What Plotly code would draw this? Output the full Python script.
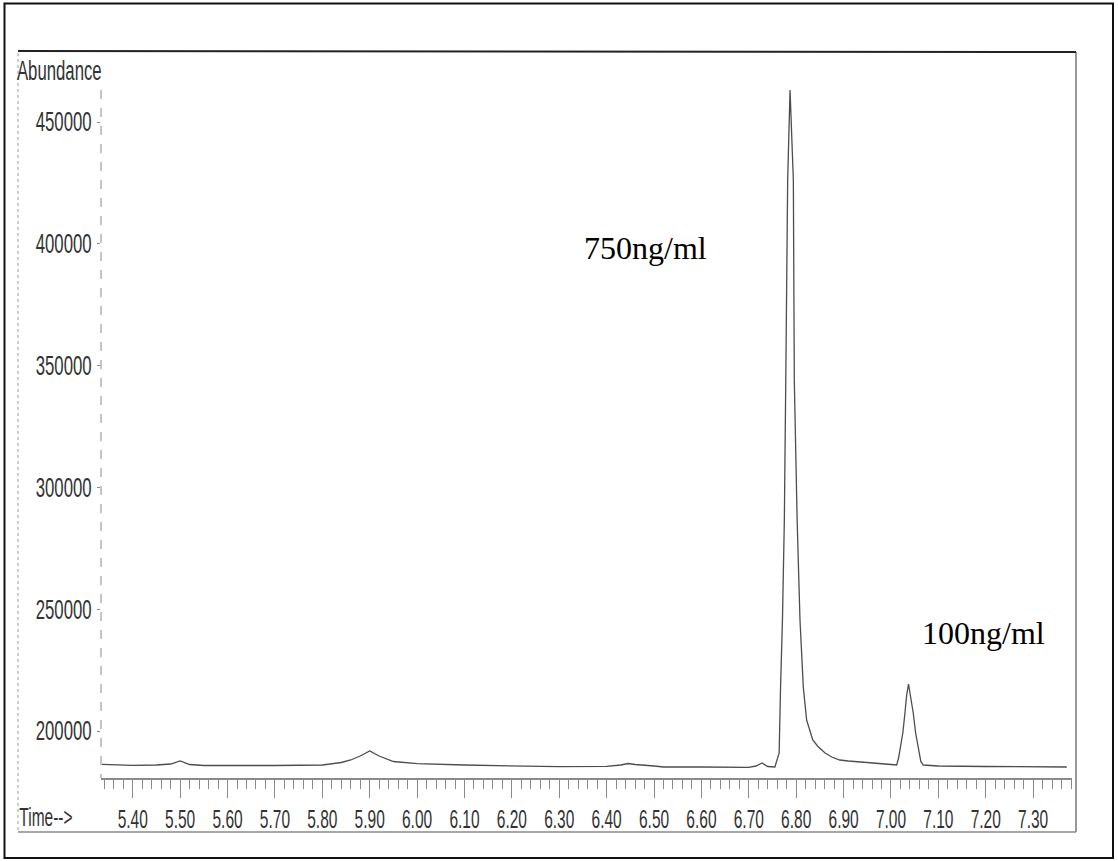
import plotly.graph_objects as go

# Total ion chromatogram: retention time (min) vs abundance
time_min = [5.335, 5.40, 5.45, 5.48, 5.50, 5.52, 5.55, 5.60, 5.70, 5.80,
            5.82, 5.84, 5.86, 5.88, 5.90, 5.92, 5.95, 5.98, 6.00, 6.10,
            6.20, 6.30, 6.40, 6.43, 6.445, 6.46, 6.50, 6.52, 6.60, 6.70,
            6.715, 6.728, 6.74, 6.75, 6.755, 6.764, 6.7645, 6.766, 6.767, 6.771,
            6.775, 6.778, 6.782, 6.787, 6.794, 6.796, 6.802, 6.808, 6.815, 6.822,
            6.835, 6.845, 6.861, 6.875, 6.892, 6.91, 6.93, 6.962, 7.00, 7.012,
            7.016, 7.0205, 7.025, 7.0295, 7.033, 7.037, 7.041, 7.047, 7.052, 7.058,
            7.063, 7.068, 7.10, 7.20, 7.30, 7.371]
abundance = [186330, 185920, 186040, 186450, 187690, 186250, 185840, 185760, 185840, 186040,
             186450, 187070, 188100, 189740, 191790, 189740, 187480, 186860, 186580, 186040,
             185630, 185340, 185510, 186040, 186660, 186250, 185630, 185220, 185220, 185100,
             185630, 186860, 185430, 185220, 185220, 190970, 196300, 204500, 218060, 245570,
             286620, 344090, 426190, 463130, 426190, 344090, 286620, 245570, 218060, 204500,
             196300, 193840, 190970, 189330, 188100, 187690, 187270, 186860, 186250, 186040,
             188900, 193430, 199180, 207390, 214500, 219290, 214500, 207390, 199180, 193430,
             187500, 186040, 185630, 185430, 185220, 185220]

x_ticks = [5.40, 5.50, 5.60, 5.70, 5.80, 5.90, 6.00, 6.10, 6.20, 6.30,
           6.40, 6.50, 6.60, 6.70, 6.80, 6.90, 7.00, 7.10, 7.20, 7.30]
x_tick_text = ["5.40", "5.50", "5.60", "5.70", "5.80", "5.90", "6.00", "6.10", "6.20", "6.30",
               "6.40", "6.50", "6.60", "6.70", "6.80", "6.90", "7.00", "7.10", "7.20", "7.30"]
y_ticks = [200000, 250000, 300000, 350000, 400000, 450000]
y_tick_text = ["200000", "250000", "300000", "350000", "400000", "450000"]

peak_labels = ["750ng/ml", "100ng/ml"]

W, H = 1118, 861
L, R, T, B = 101, 1072, 51, 778  # plot-area edges in pixels

SANS = "Liberation Sans, Arial, sans-serif"
SERIF = "Liberation Serif, Times New Roman, serif"


def px(x):
    return (x - L) / (R - L)


def py(y):
    return (B - y) / (B - T)


fig = go.Figure()
fig.add_trace(go.Scatter(
    x=time_min, y=abundance, mode="lines",
    line=dict(color="#4d4d4d", width=1.3), hoverinfo="skip", showlegend=False,
))

shapes = []
# outer frame
shapes.append(dict(type="rect", xref="paper", yref="paper",
                   x0=px(4.5), x1=px(1113), y0=py(3.5), y1=py(858),
                   line=dict(color="#111111", width=2)))
# inner box: top, right, bottom, dashed left
shapes.append(dict(type="line", xref="paper", yref="paper",
                   x0=px(18), x1=px(1076), y0=py(51), y1=py(52),
                   line=dict(color="#222222", width=2)))
shapes.append(dict(type="line", xref="paper", yref="paper",
                   x0=px(1076), x1=px(1076), y0=py(52), y1=py(832),
                   line=dict(color="#333333", width=1)))
shapes.append(dict(type="line", xref="paper", yref="paper",
                   x0=px(18), x1=px(1076), y0=py(832), y1=py(832),
                   line=dict(color="#8a8a8a", width=1.5)))
shapes.append(dict(type="line", xref="paper", yref="paper",
                   x0=px(18), x1=px(18), y0=py(53), y1=py(831),
                   line=dict(color="#9a9a9a", width=1, dash="dot")))
# vertical abundance axis (dashed)
shapes.append(dict(type="line", xref="paper", yref="paper",
                   x0=px(101), x1=px(101), y0=py(90), y1=py(778),
                   line=dict(color="#8a8a8a", width=1, dash="dash")))
fig.update_layout(shapes=shapes)

annotations = [
    dict(text="Abundance", xref="paper", yref="paper", x=px(59), y=py(71),
         xanchor="center", yanchor="middle", showarrow=False,
         font=dict(family=SANS, size=27, color="#333333")),
    dict(text="Time-->", xref="paper", yref="paper", x=px(46), y=py(817),
         xanchor="center", yanchor="middle", showarrow=False,
         font=dict(family=SANS, size=25, color="#333333")),
    dict(text=peak_labels[0], xref="paper", yref="paper", x=px(645), y=py(248),
         xanchor="center", yanchor="middle", showarrow=False,
         font=dict(family=SERIF, size=32, color="#000000")),
    dict(text=peak_labels[1], xref="paper", yref="paper", x=px(983), y=py(633),
         xanchor="center", yanchor="middle", showarrow=False,
         font=dict(family=SERIF, size=32, color="#000000")),
]
fig.update_layout(annotations=annotations)

y_per_px = 50000 / 121.8
y_lo = 200000 - (B - 731) * y_per_px
y_hi = 200000 + (731 - T) * y_per_px

fig.update_layout(
    width=W, height=H,
    margin=dict(l=L, r=W - R, t=T, b=H - B, pad=0, autoexpand=False),
    paper_bgcolor="white", plot_bgcolor="white",
    xaxis=dict(
        range=[5.333, 7.382], showgrid=False, zeroline=False, automargin=False,
        showline=True, linecolor="#8a8a8a", linewidth=1.5,
        tickvals=x_ticks, ticktext=x_tick_text, tickangle=0,
        ticks="outside", ticklen=18, tickwidth=1, tickcolor="#8a8a8a",
        tickfont=dict(family=SANS, size=25, color="#333333"),
        minor=dict(dtick=0.02, tick0=5.34, ticks="outside", ticklen=9,
                   tickwidth=1, tickcolor="#8a8a8a", showgrid=False),
    ),
    yaxis=dict(
        range=[y_lo, y_hi], showgrid=False, zeroline=False, showline=False,
        automargin=False, tickangle=0,
        tickvals=y_ticks, ticktext=y_tick_text,
        ticks="outside", ticklen=3, tickwidth=1, tickcolor="#8a8a8a",
        tickfont=dict(family=SANS, size=27, color="#333333"),
    ),
)

# Condense the sans-serif labels horizontally (narrow instrument-style lettering)
condense_js = """
var gd = document.getElementById('{plot_id}');
var narrowLabels = ['Abundance', 'Time-->'];
function condense() {
  var els = gd.querySelectorAll('g.xtick > text, g.ytick > text, text.annotation-text');
  els.forEach(function (t) {
    var isAnn = t.classList.contains('annotation-text');
    if (isAnn && narrowLabels.indexOf(t.textContent) < 0) { return; }
    t.removeAttribute('textLength');
    t.removeAttribute('lengthAdjust');
    var w = t.getComputedTextLength();
    t.setAttribute('textLength', (w * 0.62).toFixed(2));
    t.setAttribute('lengthAdjust', 'spacingAndGlyphs');
  });
}
condense();
gd.on('plotly_afterplot', condense);
"""

fig.write_html("out.html", post_script=condense_js)
